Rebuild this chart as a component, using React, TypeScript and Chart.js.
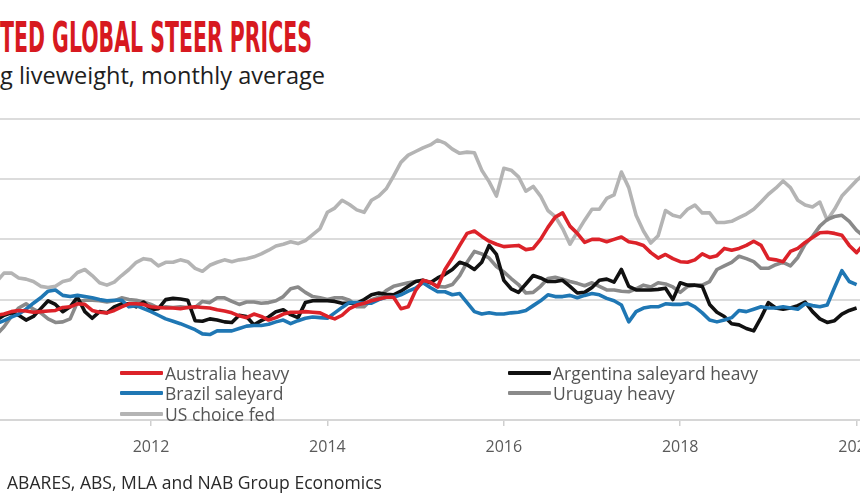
import React, { useEffect, useLayoutEffect, useRef } from "react";
import { Chart, registerables } from "chart.js";

Chart.register(...registerables);

// Monthly data, first point = April 2010 (month index 3 of 2010)
const START_YEAR = 2010;
const START_MONTH = 3;
const END_MONTH_INDEX = 121; // Feb 2020 (months since Jan 2010)
const YEAR_TICKS = [2012, 2014, 2016, 2018, 2020];

const australiaHeavy = [
  174, 176, 180, 182, 181, 179, 180, 181, 182, 187,
  188, 193, 192, 182, 179, 178, 182, 188, 193, 193,
  192, 188, 187, 186, 186, 185, 187, 188, 187, 186,
  183, 181, 178, 173, 170, 176, 172, 166, 170, 176,
  179, 179, 180, 179, 178, 172, 168, 174, 185, 191,
  194, 198, 201, 204, 204, 185, 188, 215, 232, 229,
  221, 250, 269, 290, 310, 314, 305, 297, 292, 288,
  289, 290, 283, 285, 300, 320, 337, 344, 322, 310,
  295, 300, 300, 296, 300, 304, 296, 294, 290, 278,
  269, 275, 268, 263, 262, 266, 276, 270, 273, 285,
  282, 285, 290, 297, 290, 268, 266, 263, 280, 285,
  295, 303, 311, 312, 310, 307, 290, 278, 292,
];

const argentinaSaleyardHeavy = [
  166, 174, 178, 174, 166, 172, 185, 198, 192, 180,
  188, 204, 180, 169, 180, 178, 188, 193, 193, 188,
  196, 183, 185, 200, 202, 201, 199, 165, 164, 168,
  166, 163, 162, 174, 172, 158, 165, 171, 180, 183,
  175, 170, 195, 198, 198, 198, 197, 194, 194, 194,
  200, 208, 211, 209, 208, 214, 222, 230, 232, 228,
  236, 242, 250, 262, 258, 250, 262, 290, 275, 232,
  218, 212, 226, 240, 236, 230, 230, 232, 222, 211,
  212, 220, 232, 234, 229, 250, 222, 216, 216, 216,
  217, 219, 200, 228, 224, 224, 222, 192, 179, 172,
  160, 158, 152, 148, 170, 195, 186, 184, 186, 190,
  196, 180, 168, 162, 165, 176, 182, 186,
];

const brazilSaleyard = [
  160, 165, 171, 176, 184, 194, 203, 214, 216, 207,
  205, 207, 205, 203, 200, 198, 199, 199, 188, 190,
  185, 180, 174, 168, 164, 160, 155, 150, 143, 142,
  148, 148, 148, 152, 156, 157, 157, 159, 163, 166,
  160, 165, 169, 171, 170, 169, 178, 187, 195, 195,
  194, 194, 200, 204, 204, 208, 214, 219, 228, 220,
  213, 213, 208, 210, 195, 180, 176, 178, 176, 176,
  178, 179, 182, 190, 198, 208, 205, 205, 207, 203,
  207, 210, 208, 202, 198, 191, 163, 180, 186, 188,
  188, 193, 192, 192, 194, 188, 178, 166, 163, 166,
  170, 182, 180, 184, 188, 186, 186, 188, 186, 184,
  193, 190, 188, 191, 220, 248, 230, 225,
];

const uruguayHeavy = [
  142, 155, 172, 186, 193, 184, 178, 168, 162, 163,
  168, 196, 199, 199, 198, 196, 198, 203, 200, 199,
  196, 192, 186, 188, 187, 188, 187, 187, 197, 195,
  203, 203, 197, 192, 196, 196, 194, 195, 198, 205,
  218, 221, 212, 205, 203, 200, 203, 203, 199, 188,
  188, 200, 204, 215, 222, 225, 228, 230, 232, 229,
  222, 221, 225, 240, 262, 280, 276, 269, 255, 246,
  235, 225, 211, 212, 222, 235, 237, 234, 230, 227,
  223, 228, 222, 216, 216, 214, 213, 218, 224, 221,
  228, 226, 221, 212, 222, 224, 224, 230, 250, 256,
  262, 272, 268, 263, 252, 252, 258, 262, 256, 270,
  292, 305, 322, 333, 338, 340, 330, 315, 305,
];

const usChoiceFed = [
  230, 244, 244, 236, 234, 230, 222, 220, 222, 230,
  233, 245, 250, 240, 228, 224, 229, 240, 250, 262,
  268, 266, 256, 262, 262, 266, 263, 252, 247, 257,
  262, 266, 263, 266, 268, 271, 276, 282, 289, 292,
  296, 293, 298, 308, 318, 345, 352, 365, 358, 349,
  345, 365, 372, 384, 405, 428, 440, 446, 452, 457,
  465, 460, 450, 443, 445, 444, 415, 396, 372, 418,
  415, 404, 380, 388, 372, 348, 338, 318, 292, 312,
  332, 350, 350, 368, 374, 412, 386, 340, 314, 294,
  306, 348, 340, 337, 350, 357, 344, 344, 328, 328,
  330, 336, 342, 350, 362, 375, 385, 397, 386, 365,
  357, 354, 362, 332, 350, 372, 385, 398, 408,
];

const SERIES = [
  { label: "Australia heavy", data: australiaHeavy, color: "#dc2229" },
  { label: "Brazil saleyard", data: brazilSaleyard, color: "#1f77b4" },
  { label: "Argentina saleyard heavy", data: argentinaSaleyardHeavy, color: "#111111" },
  { label: "Uruguay heavy", data: uruguayHeavy, color: "#8a8a8a" },
  { label: "US choice fed", data: usChoiceFed, color: "#b4b4b4" },
];

const LEGEND_COL1 = ["Australia heavy", "Brazil saleyard", "US choice fed"];
const LEGEND_COL2 = ["Argentina saleyard heavy", "Uruguay heavy"];

const monthToYear = (i: number) => START_YEAR + (START_MONTH + i) / 12;

function FitText(props: { text: string; width: number; style: React.CSSProperties }) {
  const ref = useRef<HTMLSpanElement>(null);
  useLayoutEffect(() => {
    const el = ref.current;
    if (!el) return;
    el.style.transform = "none";
    const w = el.getBoundingClientRect().width;
    if (w > 0) el.style.transform = `scaleX(${props.width / w})`;
  }, [props.text, props.width]);
  return (
    <span
      ref={ref}
      style={{
        display: "inline-block",
        whiteSpace: "nowrap",
        transformOrigin: "left top",
        ...props.style,
      }}
    >
      {props.text}
    </span>
  );
}

const CANVAS_LEFT = -60;
const CANVAS_W = 980;
const CANVAS_H = 500;

export default function App() {
  const canvasRef = useRef<HTMLCanvasElement>(null);

  useEffect(() => {
    const canvas = canvasRef.current;
    if (!canvas) return;
    const xMin = monthToYear(0);
    const xMax = START_YEAR + END_MONTH_INDEX / 12;
    // pixel geometry: 2012 tick at page x=151, 88.2 px per year
    const pxPerYear = 88.2;
    const x2012 = 151;
    const areaLeft = x2012 + (xMin - 2012) * pxPerYear;
    const areaRight = x2012 + (xMax - 2012) * pxPerYear;
    const padLeft = areaLeft - CANVAS_LEFT;
    const padRight = CANVAS_LEFT + CANVAS_W - areaRight;

    const chart = new Chart(canvas, {
      type: "line",
      data: {
        datasets: SERIES.map((s) => ({
          label: s.label,
          data: s.data.map((v, i) => ({ x: monthToYear(i), y: v })),
          borderColor: s.color,
          backgroundColor: s.color,
          borderWidth: 3.6,
          pointRadius: 0,
          tension: 0,
          fill: false,
          borderJoinStyle: "round" as const,
        })),
      },
      options: {
        responsive: false,
        animation: false,
        devicePixelRatio: 1,
        layout: { padding: { left: padLeft, right: padRight, top: 119, bottom: 0 } },
        plugins: {
          legend: { display: false },
          tooltip: { enabled: false },
        },
        scales: {
          x: {
            type: "linear",
            min: xMin,
            max: xMax,
            afterBuildTicks: (scale: any) => {
              scale.ticks = YEAR_TICKS.filter((y) => y >= xMin && y <= xMax).map((v) => ({ value: v }));
            },
            afterFit: (scale: any) => {
              scale.height = 80;
            },
            grid: {
              display: true,
              drawOnChartArea: false,
              drawTicks: true,
              tickLength: 6,
              color: "#cfcfcf",
              lineWidth: 1.5,
            },
            border: { display: true, color: "#d6d6d6", width: 2 },
            ticks: {
              autoSkip: false,
              maxRotation: 0,
              padding: 12,
              color: "#5a5a5a",
              font: { family: "'Open Sans', sans-serif", size: 16 },
              callback: (v: any) => String(v),
            },
          },
          y: {
            type: "linear",
            min: 0,
            max: 500,
            afterFit: (scale: any) => {
              scale.width = 0;
            },
            ticks: { stepSize: 100, display: false },
            grid: { color: "#dcdcdc", lineWidth: 2, drawTicks: false },
            border: { display: false },
          },
        },
      },
    });
    return () => chart.destroy();
  }, []);

  const legendItem = (label: string, left: number, rowY: number) => {
    const s = SERIES.find((x) => x.label === label)!;
    return (
      <React.Fragment key={label}>
        <div
          style={{
            position: "absolute",
            left,
            top: rowY - 2,
            width: 43,
            height: 4,
            background: s.color,
            borderRadius: 1,
          }}
        />
        <div
          style={{
            position: "absolute",
            left: left + 45,
            top: rowY - 12,
            fontFamily: "'Open Sans', sans-serif",
            fontSize: 17.5,
            lineHeight: "24px",
            color: "#555555",
            whiteSpace: "nowrap",
          }}
        >
          {label}
        </div>
      </React.Fragment>
    );
  };

  const rows = [373, 393, 414];

  return (
    <div
      style={{
        position: "fixed",
        left: 0,
        top: 0,
        width: 860,
        height: 500,
        overflow: "hidden",
        background: "#ffffff",
      }}
    >
      <div style={{ position: "absolute", left: 0, top: 16, lineHeight: "43px" }}>
        <FitText
          text="TED GLOBAL STEER PRICES"
          width={312}
          style={{
            fontFamily: "'DejaVu Sans Condensed', 'Liberation Sans Narrow', 'DejaVu Sans', sans-serif",
            fontWeight: 700,
            fontSize: 42,
            color: "#d71920",
            fontStretch: "condensed",
          }}
        />
      </div>
      <div style={{ position: "absolute", left: 0, top: 60, lineHeight: "30px" }}>
        <FitText
          text="g liveweight, monthly average"
          width={325}
          style={{ fontFamily: "'Open Sans', sans-serif", fontSize: 24, color: "#1e1e1e" }}
        />
      </div>
      <div style={{ position: "absolute", left: CANVAS_LEFT, top: 0, width: CANVAS_W, height: CANVAS_H }}>
        <canvas
          ref={canvasRef}
          width={CANVAS_W}
          height={CANVAS_H}
          style={{ width: CANVAS_W, height: CANVAS_H, display: "block" }}
        />
      </div>
      {LEGEND_COL1.map((l, i) => legendItem(l, 120, rows[i]))}
      {LEGEND_COL2.map((l, i) => legendItem(l, 508, rows[i]))}
      <div style={{ position: "absolute", left: 7, top: 470, lineHeight: "24px" }}>
        <FitText
          text="ABARES, ABS, MLA and NAB Group Economics"
          width={375}
          style={{ fontFamily: "'Open Sans', sans-serif", fontSize: 18, color: "#2a2a2a" }}
        />
      </div>
    </div>
  );
}
